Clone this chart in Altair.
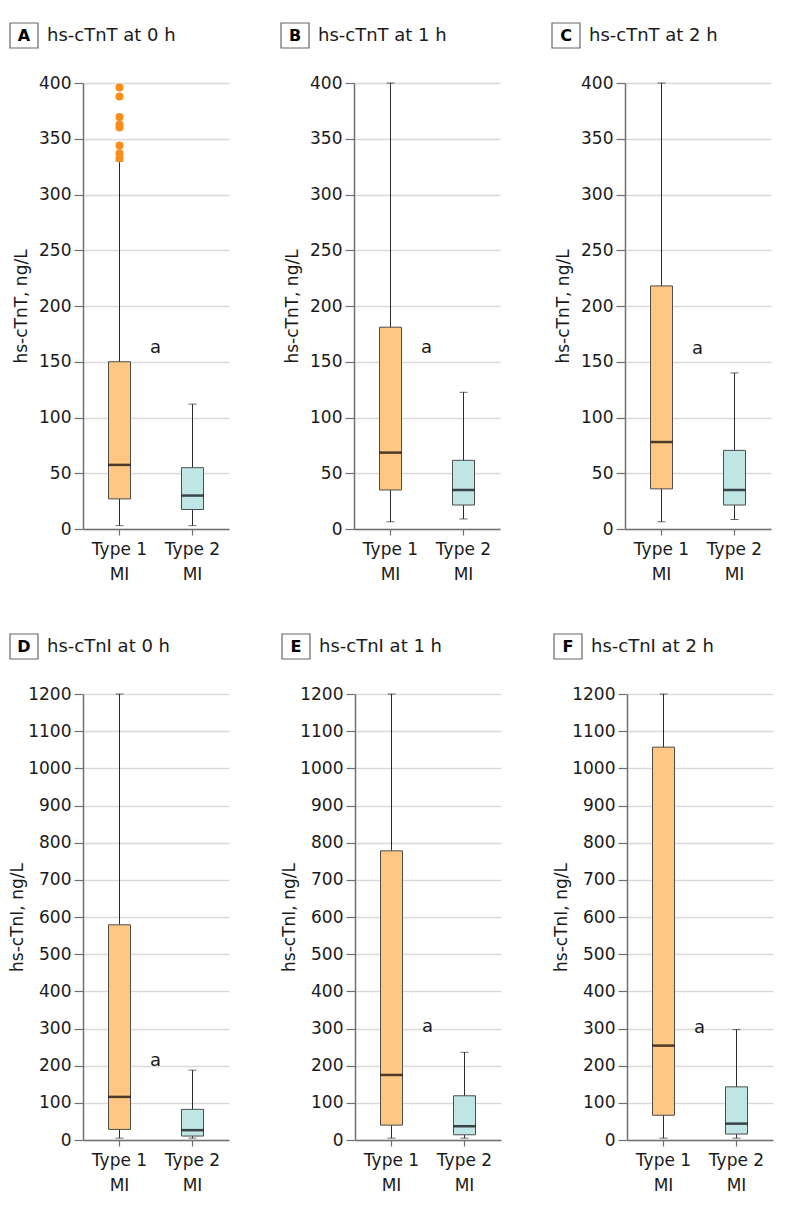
import altair as alt
import pandas as pd

FONT = "DejaVu Sans"
TXT = "#1a1a1a"

categories = ["Type 1 MI", "Type 2 MI"]
panel_letters = ["A", "B", "C", "D", "E", "F"]
panel_titles = ["hs-cTnT at 0 h", "hs-cTnT at 1 h", "hs-cTnT at 2 h",
                "hs-cTnI at 0 h", "hs-cTnI at 1 h", "hs-cTnI at 2 h"]
y_titles = ["hs-cTnT, ng/L"] * 3 + ["hs-cTnI, ng/L"] * 3
y_max = [400, 400, 400, 1200, 1200, 1200]
y_step = [50, 50, 50, 100, 100, 100]

# per panel: [Type 1 MI, Type 2 MI]
lower = [[3, 3], [6.5, 9], [6.5, 8.5], [5, 5], [5, 5], [5, 5]]
q1 = [[27, 17.5], [35, 21.5], [36, 21.5], [28.5, 10.6], [40, 14], [66.6, 16]]
median = [[57.5, 30], [68.5, 35], [78, 35], [116, 26.5], [175, 37], [254, 44]]
q3 = [[150, 55], [181, 61.6], [218, 70.5], [579, 82.5], [778, 119], [1057, 143]]
upper = [[330, 112], [400, 122.6], [400, 140], [1200, 188], [1200, 236], [1200, 297]]

outliers_A = [396, 388, 369.5, 362.7, 360, 344, 337, 332.5]
annot_y = [162, 162, 161, 212, 304, 302]

box_colors = ["#FFC781", "#BFE5E4"]
outlier_color = "#FB8C19"

W, H = 146, 446


def panel(i):
    df = pd.DataFrame({
        "group": categories,
        "lower": lower[i], "q1": q1[i], "median": median[i],
        "q3": q3[i], "upper": upper[i],
    })
    xscale = alt.Scale(domain=categories, paddingInner=0, paddingOuter=0)
    yscale = alt.Scale(domain=[0, y_max[i]], nice=False, zero=True)
    xenc = alt.X("group:N", scale=xscale, sort=categories,
                 axis=alt.Axis(title=None, labelAngle=0,
                               labelExpr="[slice(datum.label, 0, 6), 'MI']"))
    yvals = list(range(0, y_max[i] + 1, y_step[i]))
    tx = -53 if y_max[i] < 1000 else -57
    yaxis = alt.Axis(title=y_titles[i], values=yvals, grid=True, format="d",
                     labelOverlap=False, titleX=tx)

    def Y(field):
        return alt.Y(field, scale=yscale, axis=yaxis, title=y_titles[i])

    base = alt.Chart(df)

    whisk = base.mark_rule(color="#2b2b2b", strokeWidth=1).encode(
        x=xenc, y=Y("lower:Q"), y2="upper:Q")
    cap_lo = base.mark_tick(color="#2b2b2b", size=8, thickness=1).encode(
        x=xenc, y=Y("lower:Q"))
    cap_hi = base.mark_tick(color="#2b2b2b", size=8, thickness=1).encode(
        x=xenc, y=Y("upper:Q"))
    box = base.mark_bar(size=22, stroke="#4d4d4d", strokeWidth=1).encode(
        x=xenc, y=Y("q1:Q"), y2="q3:Q",
        color=alt.Color("group:N", scale=alt.Scale(domain=categories, range=box_colors),
                        legend=None))
    med = base.mark_tick(color="#000000", size=22, thickness=2.5).encode(
        x=xenc, y=Y("median:Q"))

    layers = [whisk, cap_lo, cap_hi, box, med]

    if i == 0:
        odf = pd.DataFrame({"group": ["Type 1 MI"] * len(outliers_A), "value": outliers_A})
        layers.append(alt.Chart(odf).mark_circle(size=64, color=outlier_color, opacity=1).encode(
            x=xenc, y=Y("value:Q")))

    adf = pd.DataFrame({"group": ["Type 2 MI"], "value": [annot_y[i]], "t": ["a"]})
    layers.append(alt.Chart(adf).mark_text(font=FONT, fontSize=18, color=TXT, dx=-37,
                                            baseline="middle", align="center").encode(
        x=xenc, y=Y("value:Q"), text="t:N"))

    tdf = pd.DataFrame({"letter": [panel_letters[i]], "title": [panel_titles[i]]})
    tb = alt.Chart(tdf)
    layers.append(tb.mark_rect(fill="white", stroke="#666666", strokeWidth=1.2).encode(
        x=alt.value(-73), x2=alt.value(-45), y=alt.value(-60), y2=alt.value(-35)))
    layers.append(tb.mark_text(font=FONT, fontSize=16, fontWeight="bold", color="#000000",
                               align="center", baseline="middle").encode(
        x=alt.value(-59), y=alt.value(-47), text="letter:N"))
    layers.append(tb.mark_text(font=FONT, fontSize=18, color=TXT,
                               align="left", baseline="middle").encode(
        x=alt.value(-36), y=alt.value(-47), text="title:N"))

    return alt.layer(*layers).properties(width=W, height=H)


row1 = alt.hconcat(panel(0), panel(1), panel(2), spacing=51)
row2 = alt.hconcat(panel(3), panel(4), panel(5), spacing=51)

chart = alt.vconcat(row1, row2, spacing=51).properties(
    padding={"left": 0, "top": 14, "right": 5, "bottom": 5},
).configure_view(stroke=None).configure_axis(
    labelFont=FONT, titleFont=FONT, labelColor=TXT, titleColor=TXT,
    titleFontWeight="normal",
).configure_axisY(
    labelFontSize=17, titleFontSize=17, gridColor="#D9D9D9", gridWidth=1.5,
    domainColor="#707070", domainWidth=1.5, tickColor="#707070", tickWidth=1.2,
    tickSize=9, labelPadding=3,
).configure_axisX(
    labelFontSize=17, labelLineHeight=25, domainColor="#707070", domainWidth=1.5,
    tickColor="#707070", tickWidth=1.2, tickSize=6, labelPadding=6, grid=False,
)

chart.save("out.html", embed_options={"renderer": "svg", "actions": False})
